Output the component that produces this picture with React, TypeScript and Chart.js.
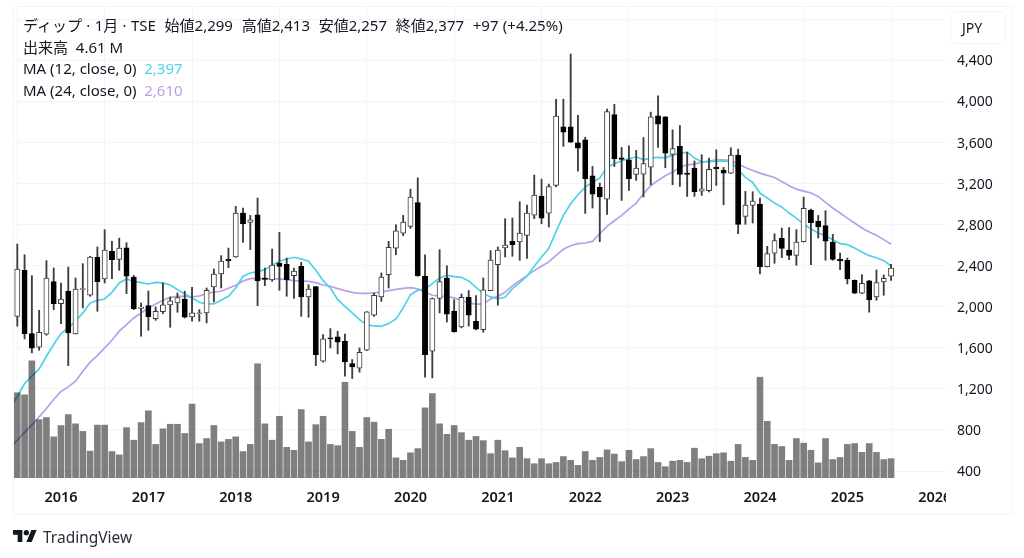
import React, { useEffect, useRef } from 'react';
import { Chart, registerables } from 'chart.js';

Chart.register(...registerables);

// monthly candles, first one is Jul 2015
const opens = [1907, 2355, 1739, 1606, 1732, 2245, 2031, 2154, 1735, 2170, 2112, 2481, 2271, 2540, 2462, 2575, 2290, 1985, 2011, 1885, 1953, 2018, 2037, 2076, 1901, 1933, 1940, 2193, 2319, 2462, 2485, 2913, 2822, 2896, 2280, 2261, 2426, 2413, 2303, 2394, 2095, 2196, 1470, 1697, 1706, 1667, 1447, 1401, 1577, 1917, 2095, 2313, 2572, 2718, 2783, 3016, 2297, 1567, 2082, 2280, 1956, 1804, 2093, 1859, 1778, 2158, 2411, 2573, 2638, 2631, 2696, 2893, 3078, 2913, 3182, 3753, 3753, 3597, 3626, 3276, 3163, 3049, 3873, 3451, 3432, 3289, 3292, 3360, 3860, 3850, 3484, 3562, 3302, 3351, 3127, 3131, 3361, 3332, 3302, 3478, 2881, 2988, 3001, 2391, 2521, 2667, 2553, 2501, 2634, 2942, 2832, 2790, 2628, 2462, 2453, 2258, 2132, 2252, 2096, 2242, 2299];
const highs = [2611, 2507, 2303, 1966, 2449, 2378, 2232, 2387, 2280, 2420, 2492, 2582, 2751, 2637, 2669, 2624, 2306, 2037, 2154, 1998, 2232, 2095, 2134, 2151, 2190, 1972, 2183, 2368, 2498, 2572, 2978, 2961, 2890, 3059, 2378, 2562, 2725, 2475, 2378, 2433, 2215, 2199, 1729, 1787, 1761, 1735, 1486, 1599, 1953, 2134, 2329, 2637, 2799, 2890, 3146, 3256, 2507, 2086, 2556, 2400, 2070, 2125, 2158, 2109, 2281, 2547, 2582, 2858, 2865, 3023, 2991, 3283, 3244, 3195, 4022, 4022, 4463, 3866, 3652, 3367, 3205, 3925, 3973, 3552, 3568, 3523, 3649, 3896, 4054, 3853, 3724, 3766, 3506, 3420, 3481, 3448, 3529, 3358, 3549, 3536, 3124, 3121, 3059, 2589, 2712, 2767, 2771, 2751, 3069, 2952, 2890, 2936, 2706, 2524, 2475, 2261, 2313, 2258, 2359, 2310, 2413];
const lows = [1810, 1687, 1551, 1577, 1723, 1972, 1836, 1427, 1735, 1988, 2102, 1956, 2232, 2274, 2355, 2128, 1972, 1713, 1771, 1868, 1933, 1800, 1946, 1891, 1859, 1859, 1843, 2047, 2183, 2381, 2481, 2627, 2556, 2011, 2206, 2248, 2160, 2102, 2082, 1907, 1898, 1427, 1460, 1599, 1541, 1324, 1301, 1363, 1573, 1907, 2053, 2183, 2507, 2692, 2764, 2297, 1314, 1307, 1940, 1852, 1752, 1794, 1811, 1775, 1752, 2158, 2015, 2485, 2492, 2453, 2472, 2858, 2809, 2777, 3169, 3562, 3600, 3322, 2910, 2962, 2634, 2900, 3367, 3036, 3133, 3231, 3069, 3189, 3552, 3354, 3189, 3172, 3075, 3075, 3085, 3118, 3182, 2994, 3298, 2712, 2803, 2816, 2320, 2388, 2424, 2479, 2459, 2404, 2631, 2411, 2670, 2453, 2453, 2362, 2222, 2128, 2128, 1947, 2064, 2112, 2257];
const closes = [2368, 1739, 1596, 1752, 2280, 2031, 2076, 1745, 2173, 2177, 2485, 2245, 2553, 2459, 2572, 2297, 1982, 1998, 1904, 1956, 2018, 2057, 2089, 1898, 1940, 1940, 2160, 2319, 2446, 2446, 2913, 2809, 2848, 2251, 2267, 2407, 2394, 2264, 2348, 2095, 2173, 1534, 1687, 1687, 1654, 1463, 1414, 1557, 1950, 2112, 2290, 2579, 2741, 2825, 3068, 2303, 1534, 2079, 2245, 1927, 1758, 2092, 1918, 1781, 2164, 2456, 2553, 2602, 2605, 2718, 2913, 3088, 2864, 3172, 3857, 3701, 3604, 3545, 3247, 3098, 3069, 3902, 3442, 3435, 3247, 3351, 3396, 3850, 3779, 3497, 3542, 3289, 3289, 3121, 3150, 3338, 3345, 3302, 3478, 2803, 2991, 3030, 2391, 2518, 2644, 2569, 2501, 2631, 2959, 2819, 2777, 2638, 2462, 2446, 2271, 2132, 2229, 2067, 2235, 2278, 2377];

// these three start one month earlier (Jun 2015), only its edge shows at the left
const volumes = [15.6, 20.3, 19.8, 27.9, 13.9, 14.4, 9.8, 12.5, 15.1, 12.9, 11.1, 6.4, 12.6, 12.6, 6.3, 5.5, 12.0, 9.0, 13.2, 16.0, 8.0, 11.7, 12.8, 12.8, 10.6, 17.6, 8.2, 9.4, 12.5, 8.6, 9.2, 9.8, 6.3, 8.0, 27.2, 12.9, 9.0, 14.7, 7.3, 6.6, 16.3, 8.6, 12.7, 14.7, 8.0, 7.7, 22.8, 11.1, 7.3, 14.4, 13.3, 9.2, 11.6, 4.8, 4.2, 6.0, 7.0, 16.7, 20.1, 12.9, 10.4, 12.5, 10.8, 9.0, 9.9, 8.9, 5.8, 9.0, 6.5, 4.8, 7.3, 4.6, 3.4, 4.6, 3.4, 3.7, 5.1, 4.2, 3.0, 6.3, 4.2, 4.9, 6.7, 5.7, 3.9, 6.6, 4.4, 5.1, 7.0, 3.7, 2.7, 4.0, 4.2, 3.7, 7.1, 4.6, 5.2, 5.8, 6.0, 4.0, 8.0, 4.9, 4.2, 24.0, 13.5, 8.0, 7.5, 4.2, 9.4, 8.3, 6.6, 3.6, 9.4, 4.4, 4.9, 8.0, 8.2, 6.1, 8.2, 6.1, 4.4, 4.61];
const ma12 = [1020, 1126, 1252, 1324, 1395, 1518, 1632, 1739, 1794, 1859, 1940, 2037, 2063, 2076, 2141, 2232, 2271, 2248, 2235, 2222, 2238, 2232, 2212, 2167, 2125, 2086, 2044, 2028, 2028, 2063, 2102, 2183, 2297, 2329, 2342, 2362, 2404, 2443, 2465, 2482, 2465, 2443, 2355, 2255, 2183, 2070, 2005, 1940, 1875, 1823, 1813, 1810, 1836, 1882, 1989, 2118, 2161, 2174, 2225, 2281, 2306, 2293, 2287, 2252, 2190, 2128, 2096, 2080, 2093, 2177, 2235, 2297, 2394, 2485, 2570, 2735, 2890, 3004, 3091, 3166, 3215, 3253, 3360, 3393, 3422, 3442, 3461, 3432, 3448, 3455, 3451, 3477, 3493, 3506, 3448, 3413, 3413, 3416, 3422, 3413, 3335, 3260, 3211, 3108, 3059, 3010, 2971, 2913, 2864, 2806, 2757, 2718, 2692, 2653, 2615, 2605, 2572, 2534, 2498, 2478, 2449, 2397];
const ma24 = [627, 701, 776, 850, 928, 1009, 1097, 1175, 1220, 1275, 1372, 1460, 1525, 1600, 1674, 1762, 1827, 1891, 1940, 1989, 2028, 2063, 2092, 2102, 2102, 2096, 2105, 2128, 2144, 2151, 2180, 2209, 2251, 2274, 2277, 2274, 2271, 2271, 2264, 2255, 2251, 2248, 2235, 2212, 2200, 2177, 2158, 2141, 2131, 2131, 2135, 2144, 2158, 2170, 2180, 2186, 2174, 2141, 2112, 2105, 2099, 2086, 2063, 2034, 2025, 2028, 2076, 2102, 2141, 2206, 2255, 2303, 2352, 2394, 2437, 2500, 2560, 2595, 2615, 2621, 2637, 2712, 2783, 2838, 2890, 2952, 3010, 3101, 3179, 3231, 3276, 3312, 3360, 3383, 3390, 3409, 3419, 3432, 3432, 3425, 3390, 3357, 3328, 3302, 3280, 3260, 3221, 3179, 3146, 3127, 3108, 3075, 3017, 2962, 2913, 2864, 2816, 2767, 2728, 2696, 2654, 2610];

const yearLabels = ['2016', '2017', '2018', '2019', '2020', '2021', '2022', '2023', '2024', '2025', '2026'];
const yearPositions = [6, 18, 30, 42, 54, 66, 78, 90, 102, 114, 126];

const FONT = '"Noto Sans", "Noto Sans CJK JP", sans-serif';
const TEXT = '#131722';
const GRID = '#f3f4f8';
const CYAN = '#4dd3e8';
const PURPLE = '#bb9fe6';

const App: React.FC = () => {
  const canvasRef = useRef<HTMLCanvasElement>(null);

  useEffect(() => {
    if (!canvasRef.current) return;

    const isUp = opens.map((o, i) => closes[i] >= o);

    const chart = new Chart(canvasRef.current, {
      type: 'bar',
      data: {
        datasets: [
          {
            label: 'Volume',
            data: volumes.map((v, i) => ({ x: i - 1, y: v })),
            yAxisID: 'vol',
            backgroundColor: 'rgba(0,0,0,0.5)',
            borderWidth: 0,
            barThickness: 6,
            grouped: false,
            order: 1,
          },
          {
            label: 'Body',
            data: opens.map((o, i) => ({ x: i, y: [o, closes[i]] })),
            yAxisID: 'y',
            backgroundColor: isUp.map((u) => (u ? '#ffffff' : '#000000')),
            borderColor: isUp.map((u) => (u ? '#3d3d3d' : '#000000')),
            borderWidth: 1,
            borderSkipped: false,
            barThickness: 5.2,
            grouped: false,
            order: 2,
          },
          {
            label: 'Wick',
            data: highs.map((h, i) => ({ x: i, y: [lows[i], h] })),
            yAxisID: 'y',
            backgroundColor: '#3d3d3d',
            borderWidth: 0,
            barThickness: 1.2,
            grouped: false,
            order: 3,
          },
          {
            type: 'line',
            label: 'MA 12',
            data: ma12.map((v, i) => ({ x: i - 1, y: v })),
            yAxisID: 'y',
            borderColor: CYAN,
            borderWidth: 1.7,
            pointRadius: 0,
            tension: 0,
            order: 4,
          },
          {
            type: 'line',
            label: 'MA 24',
            data: ma24.map((v, i) => ({ x: i - 1, y: v })),
            yAxisID: 'y',
            borderColor: PURPLE,
            borderWidth: 1.7,
            pointRadius: 0,
            tension: 0,
            order: 5,
          },
        ] as any,
      },
      options: {
        animation: false,
        responsive: false,
        layout: { padding: { left: 13, top: 6, right: 13, bottom: 44 } },
        plugins: { legend: { display: false }, tooltip: { enabled: false } },
        scales: {
          x: {
            type: 'linear',
            min: -0.59,
            max: 127.55,
            offset: false,
            afterBuildTicks: (scale: any) => {
              scale.ticks = yearPositions.map((value) => ({ value }));
            },
            afterFit: (scale: any) => {
              scale.height = 36;
              scale.paddingLeft = 0;
              scale.paddingRight = 0;
            },
            grid: { color: GRID, drawTicks: false },
            border: { display: false },
            ticks: {
              autoSkip: false,
              maxRotation: 0,
              padding: 11,
              labelOffset: 0,
              color: TEXT,
              font: { family: FONT, size: 14.5, weight: 600 },
              callback: (value: any) => yearLabels[yearPositions.indexOf(value)],
            },
          },
          y: {
            position: 'right',
            min: 332,
            max: 4930,
            afterFit: (scale: any) => {
              scale.width = 65;
              scale.paddingTop = 0;
              scale.paddingBottom = 0;
            },
            grid: { color: GRID, drawTicks: false },
            border: { display: false },
            ticks: {
              stepSize: 400,
              includeBounds: false,
              crossAlign: 'near',
              padding: 11,
              labelOffset: 1,
              color: TEXT,
              font: { family: FONT, size: 14 },
              // 4,800 sits behind the currency box in the original
              callback: (value: any) => (value === 4800 ? '' : Number(value).toLocaleString('en-US')),
            },
          },
          vol: {
            display: false,
            min: 0,
            max: 112.4,
          },
        },
      } as any,
    });

    return () => {
      chart.destroy();
    };
  }, []);

  const line = (top: number): React.CSSProperties => ({
    position: 'absolute',
    left: 23,
    top,
    height: 20,
    lineHeight: '20px',
    fontFamily: FONT,
    fontSize: 15,
    color: TEXT,
    whiteSpace: 'pre',
  });

  return (
    <div style={{ position: 'absolute', left: 0, top: 0, width: 1024, height: 558, overflow: 'hidden', background: '#fff' }}>
      <canvas ref={canvasRef} width={1024} height={558} style={{ display: 'block', position: 'absolute', left: 0, top: 0 }} />

      {/* the last year label is cut at the price axis */}
      <div style={{ position: 'absolute', left: 946, top: 482, width: 40, height: 28, background: '#fff' }} />

      <div style={{ position: 'absolute', left: 13, top: 6, width: 997, height: 507, border: `1px solid ${GRID}`, pointerEvents: 'none' }} />

      <div style={{ ...line(15), wordSpacing: 0.45 }}>{'ディップ · 1月 · TSE  始値2,299  高値2,413  安値2,257  終値2,377  +97 (+4.25%)'}</div>
      <div style={line(37)}>{'出来高  4.61 M'}</div>
      <div style={line(58)}>
        {'MA (12, close, 0)  '}
        <span style={{ color: CYAN }}>2,397</span>
      </div>
      <div style={line(80)}>
        {'MA (24, close, 0)  '}
        <span style={{ color: PURPLE }}>2,610</span>
      </div>

      <div
        style={{
          position: 'absolute',
          left: 950,
          top: 11,
          width: 54,
          height: 31,
          border: `1px solid ${GRID}`,
          borderRadius: 6,
          background: '#fff',
          fontFamily: FONT,
          fontSize: 14,
          lineHeight: '32px',
          color: TEXT,
          boxSizing: 'content-box',
        }}
      >
        <span style={{ position: 'absolute', left: 11 }}>JPY</span>
      </div>

      <svg style={{ position: 'absolute', left: 13, top: 530 }} width={24} height={12} viewBox="0 4 36 18">
        <path d="M14 22H7V11H0V4h14v18zM28 22h-8l7.5-18h8L28 22z" fill="#131722" />
        <circle cx={20} cy={8} r={4} fill="#131722" />
      </svg>
      <div
        style={{
          position: 'absolute',
          left: 43,
          top: 526,
          lineHeight: '22px',
          fontFamily: FONT,
          fontSize: 15.5,
          color: '#2a2e39',
        }}
      >
        TradingView
      </div>
    </div>
  );
};

export default App;
